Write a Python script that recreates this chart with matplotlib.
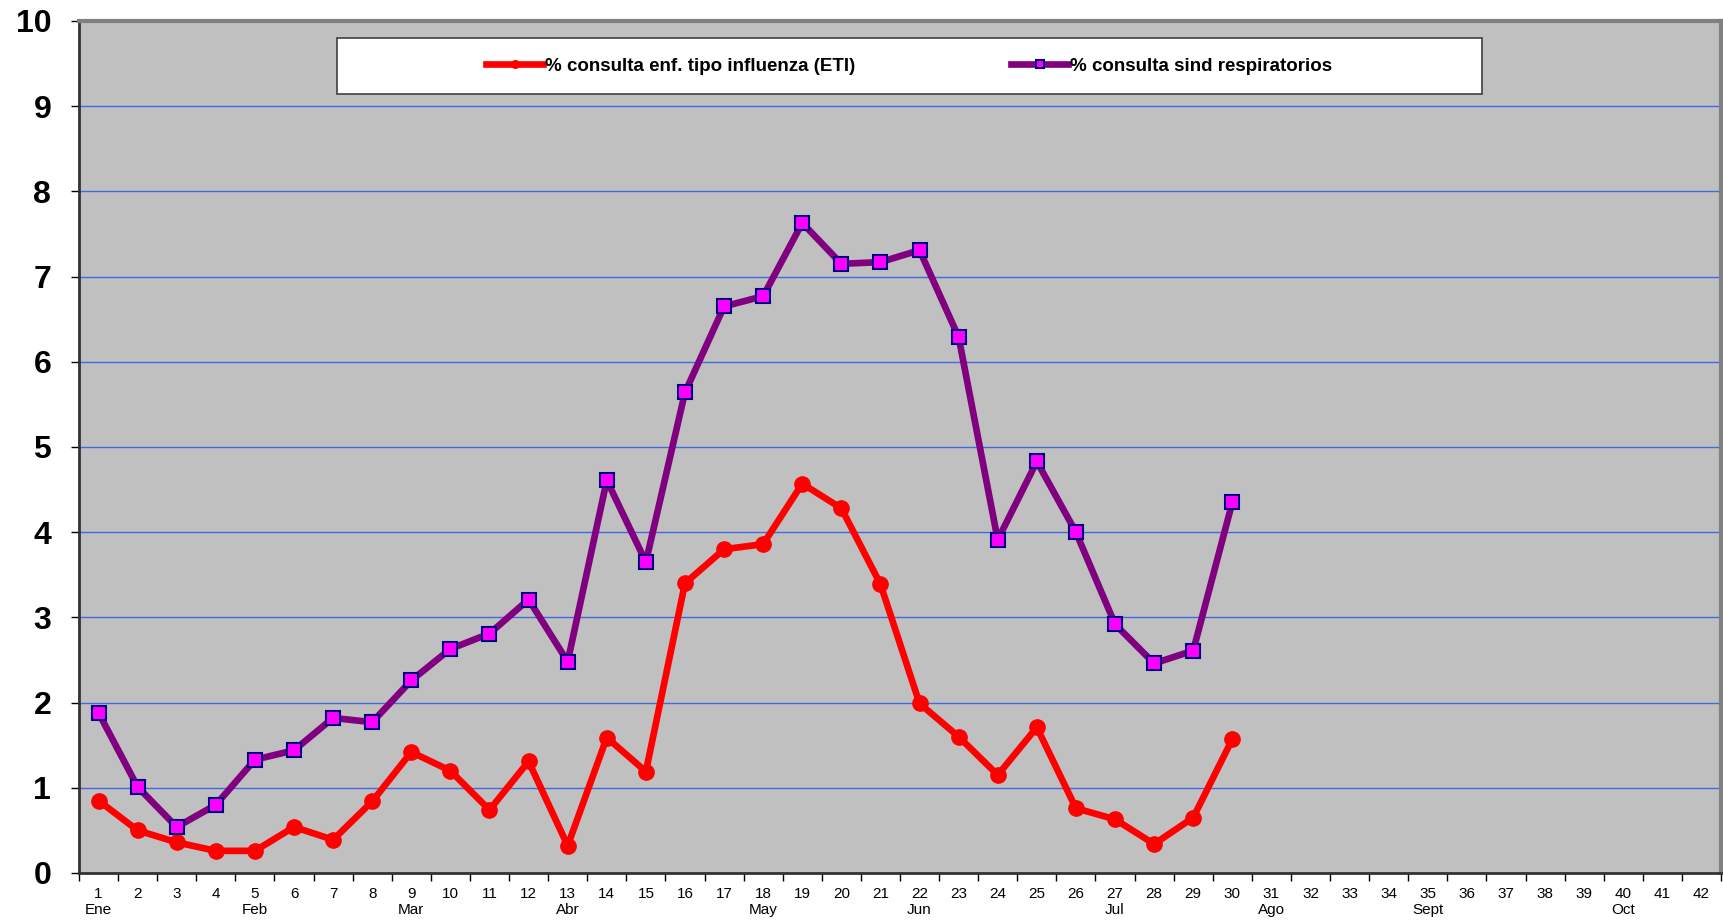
import numpy as np
import matplotlib
matplotlib.use('Agg')
import matplotlib.pyplot as plt
from matplotlib.patches import Rectangle

plt.rcParams['font.family'] = ['Liberation Sans', 'DejaVu Sans']

# semana epidemiologica 1..42, datos hasta la semana 30
weeks = list(range(1, 43))
month_labels = {1: 'Ene', 5: 'Feb', 9: 'Mar', 13: 'Abr', 18: 'May', 22: 'Jun',
                27: 'Jul', 31: 'Ago', 35: 'Sept', 40: 'Oct'}

eti = [0.85, 0.50, 0.36, 0.26, 0.26, 0.54, 0.39, 0.84, 1.42, 1.20,
       0.74, 1.31, 0.32, 1.59, 1.19, 3.40, 3.80, 3.86, 4.57, 4.28,
       3.39, 1.99, 1.60, 1.15, 1.71, 0.76, 0.63, 0.34, 0.65, 1.57]
resp = [1.88, 1.01, 0.54, 0.80, 1.33, 1.44, 1.82, 1.77, 2.26, 2.63,
        2.81, 3.21, 2.48, 4.61, 3.65, 5.64, 6.65, 6.77, 7.63, 7.15,
        7.17, 7.31, 6.29, 3.91, 4.83, 4.00, 2.92, 2.46, 2.61, 4.35]

fig = plt.figure(figsize=(17.24, 9.23), dpi=100)
ax = fig.add_axes([79/1724, 1-873/923, (1721-79)/1724, (873-21)/923])
ax.set_facecolor('#C0C0C0')

x_eti = np.arange(1, len(eti)+1)
x_resp = np.arange(1, len(resp)+1)
ax.plot(x_eti, eti, color='#FF0000', lw=4.8, marker='o', ms=11,
        mfc='#FF0000', mec='#FF0000', label='% consulta enf. tipo influenza (ETI)', zorder=3)
ax.plot(x_resp, resp, color='#800080', lw=4.8, marker='s', ms=10.5,
        mfc='#FF00FF', mec='#000080', mew=1.5, label='% consulta sind respiratorios', zorder=4)

ax.set_xlim(0.5, 42.5)
ax.set_ylim(0, 10)
ax.set_yticks(range(0, 11))
for yv in range(1, 10):
    ax.axhline(yv, color='#4169E1', lw=1, zorder=1)

ax.set_xticks(np.arange(0.5, 43, 1))
ax.set_xticklabels([])
ax.set_xticks(weeks, minor=True)
labs = []
for w in weeks:
    labs.append('%d\n%s' % (w, month_labels.get(w, '')))
ax.set_xticklabels(labs, minor=True, fontsize=11, linespacing=1.2)
ax.tick_params(axis='x', which='major', length=6, width=1, color='black', direction='out')
ax.tick_params(axis='x', which='minor', length=0, pad=10)
ax.tick_params(axis='y', length=6, width=1, direction='out', pad=14, labelsize=23)
for t in ax.get_yticklabels():
    t.set_fontweight('bold')

ax.spines['left'].set_color('#333333')
ax.spines['left'].set_linewidth(2)
ax.spines['bottom'].set_color('#333333')
ax.spines['bottom'].set_linewidth(2)
ax.spines['top'].set_color('#808080')
ax.spines['top'].set_linewidth(3)
ax.spines['right'].set_color('#808080')
ax.spines['right'].set_linewidth(3)

# caja de la leyenda
box = Rectangle((337/1724, 1-94/923), (1482-337)/1724, (94-38)/923,
                transform=fig.transFigure, facecolor='white', edgecolor='#404040', lw=1.2, zorder=5)
fig.patches.append(box)
leg = fig.legend(loc='center', bbox_to_anchor=((337+1482)/2/1724, 1-66/923), ncol=2,
                 frameon=False, prop={'weight': 'bold', 'size': 13.5},
                 handlelength=3, handletextpad=0.15, columnspacing=8.3, markerscale=0.5)
leg.set_zorder(6)

fig.savefig('out.png', dpi=100)
